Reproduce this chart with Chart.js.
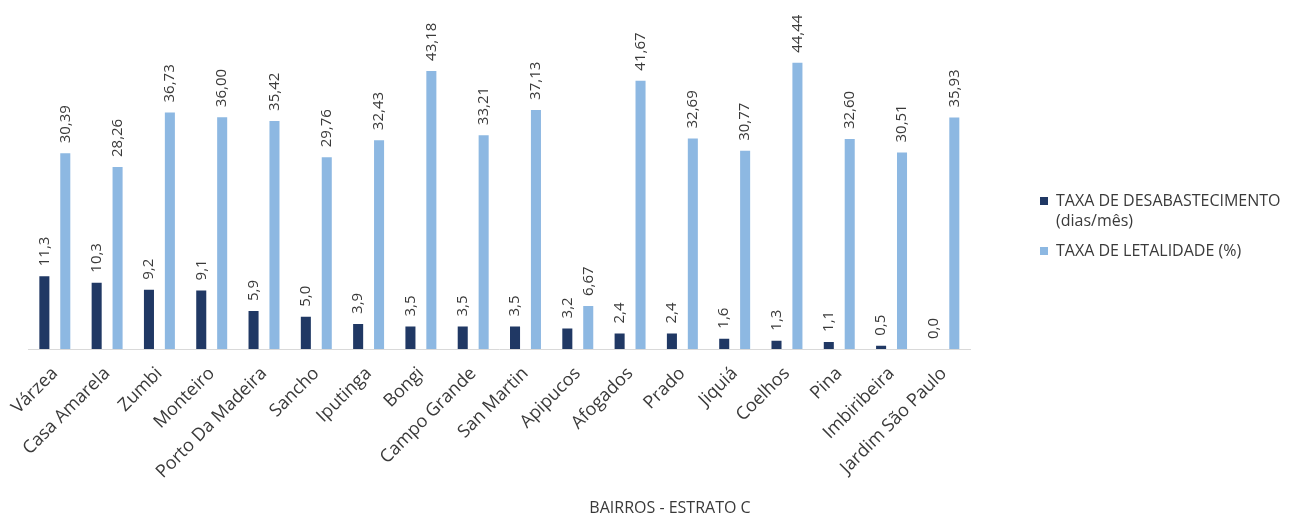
<!DOCTYPE html>
<html>
<head>
<meta charset="utf-8">
<script src="https://cdn.jsdelivr.net/npm/chart.js@4.4.0/dist/chart.umd.min.js"></script>
<style>
  html, body { margin: 0; padding: 0; background: #fff; }
  #wrap { width: 1298px; height: 519px; position: relative; }
</style>
</head>
<body>
<div id="wrap"><canvas id="barChart"></canvas></div>
<script>
const bairros = ['Várzea', 'Casa Amarela', 'Zumbi', 'Monteiro', 'Porto Da Madeira', 'Sancho', 'Iputinga',
  'Bongi', 'Campo Grande', 'San Martin', 'Apipucos', 'Afogados', 'Prado', 'Jiquiá', 'Coelhos', 'Pina',
  'Imbiribeira', 'Jardim São Paulo'];
const desabastecimento = [11.3, 10.3, 9.2, 9.1, 5.9, 5.0, 3.9, 3.5, 3.5, 3.5, 3.2, 2.4, 2.4, 1.6, 1.3, 1.1, 0.5, 0.0];
const letalidade = [30.39, 28.26, 36.73, 36.00, 35.42, 29.76, 32.43, 43.18, 33.21, 37.13, 6.67, 41.67, 32.69, 30.77, 44.44, 32.60, 30.51, 35.93];
const seriesNames = [['TAXA DE DESABASTECIMENTO', '(dias/mês)'], ['TAXA DE LETALIDADE (%)']];
const decimals = [1, 2];
const colors = ['#203864', '#8DB8E2'];
const FONT = '"Open Sans", "Liberation Sans", sans-serif';
const TEXT = '#3a3a3a';

// rotated value labels above each bar
const valueLabels = {
    id: 'valueLabels',
    afterDatasetsDraw(chart) {
        const ctx = chart.ctx;
        ctx.save();
        ctx.font = '15px ' + FONT;
        ctx.fillStyle = TEXT;
        ctx.textAlign = 'left';
        ctx.textBaseline = 'middle';
        chart.data.datasets.forEach((ds, i) => {
            chart.getDatasetMeta(i).data.forEach((bar, j) => {
                const txt = ds.data[j].toFixed(decimals[i]).replace('.', ',');
                ctx.save();
                ctx.translate(bar.x, bar.y - 10);
                ctx.rotate(-Math.PI / 2);
                ctx.fillText(txt, 0, 0);
                ctx.restore();
            });
        });
        ctx.restore();
    }
};

// legend on the right + axis title
const sideLegend = {
    id: 'sideLegend',
    afterDraw(chart) {
        const ctx = chart.ctx;
        const x0 = chart.chartArea.right + 70;
        let y = 201;
        ctx.save();
        ctx.font = '16px ' + FONT;
        ctx.textBaseline = 'middle';
        ctx.textAlign = 'left';
        seriesNames.forEach((lines, i) => {
            ctx.fillStyle = colors[i];
            ctx.fillRect(x0, y - 4, 8, 8);
            ctx.fillStyle = TEXT;
            lines.forEach((ln, k) => ctx.fillText(ln, x0 + 16, y + k * 20));
            y += lines.length * 20 + 10;
        });
        ctx.font = '16px ' + FONT;
        ctx.textAlign = 'center';
        ctx.fillText('BAIRROS - ESTRATO C', 670, 508);
        ctx.restore();
    }
};

new Chart(document.getElementById('barChart'), {
    type: 'bar',
    data: {
        labels: bairros,
        datasets: [
            { label: seriesNames[0].join(' '), data: desabastecimento, backgroundColor: colors[0] },
            { label: seriesNames[1].join(' '), data: letalidade, backgroundColor: colors[1] }
        ]
    },
    options: {
        responsive: true,
        maintainAspectRatio: false,
        animation: false,
        categoryPercentage: 0.8,
        barPercentage: 0.48,
        layout: { padding: { left: 28, right: 328, top: 27, bottom: 0 } },
        plugins: {
            legend: { display: false },
            tooltip: { enabled: false }
        },
        scales: {
            x: {
                grid: { display: false, drawTicks: false },
                border: { display: true, color: '#D9D9D9', width: 1 },
                ticks: {
                    color: TEXT,
                    font: { family: FONT, size: 18 },
                    minRotation: 45,
                    maxRotation: 45,
                    padding: 14,
                    autoSkip: false
                },
                afterFit(scale) { scale.height = 170; }
            },
            y: {
                display: false,
                min: 0,
                max: 50
            }
        }
    },
    plugins: [valueLabels, sideLegend]
});
</script>
</body>
</html>
